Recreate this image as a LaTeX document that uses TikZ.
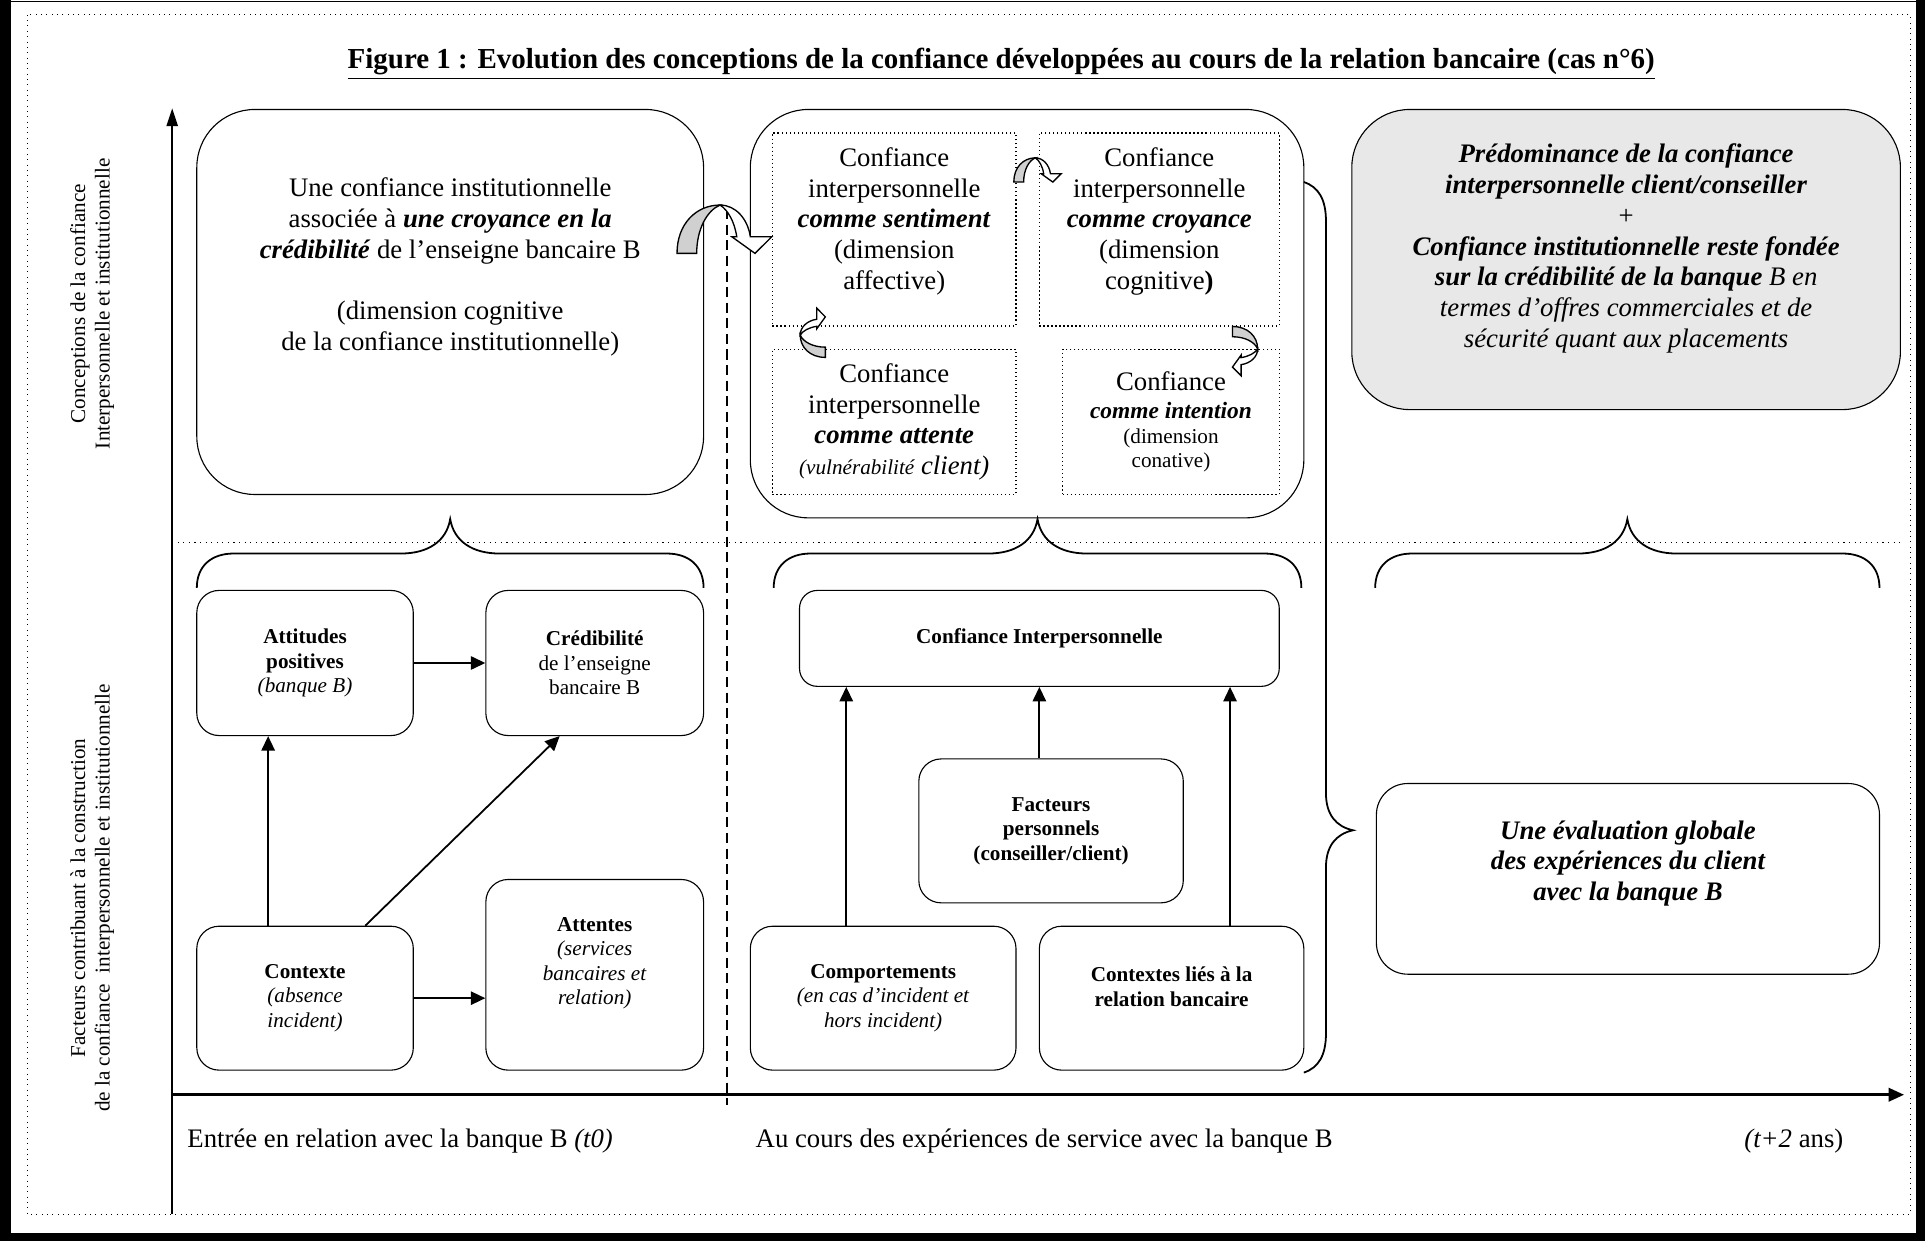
\documentclass[tikz,border=0pt]{standalone}
\usepackage{fontspec}
\setmainfont{Liberation Serif}
\usetikzlibrary{arrows.meta}
\newcommand{\ux}{0.552pt}
\newcommand{\topbrace}[2]{%
  \pgfmathsetmacro{\mx}{(#1+#2)/2}
  \draw[brc](#1,478)..controls(#1,460)and(#1+12,450)..(#1+30,450)--(\mx-40,450)..controls(\mx-18,450)and(\mx-3,440)..(\mx,422)..controls(\mx+3,440)and(\mx+18,450)..(\mx+40,450)--(#2-30,450)..controls(#2-12,450)and(#2,460)..(#2,478);}
\newcommand{\bendarrow}[4]{%
  \begin{scope}[shift={(#1,#2)},rotate=#3,scale=#4]
    \filldraw[fill=gray!37,line width=0.6pt](-37.6,0)..controls(-37.6,-24)and(-22,-39.3)..(-2.6,-39.3)..controls(-13,-35)and(-21.6,-20)..(-21.6,0)--cycle;
    \filldraw[fill=white,line width=0.6pt](-2.6,-39.3)..controls(10,-39.3)and(20,-28)..(22,-13.5)--(39.4,-13.5)--(25.8,0)--(7,-13.5)--(11,-13.5)..controls(9,-26)and(4,-35)..(-2.6,-39.3)--cycle;
  \end{scope}}
\begin{document}
\begin{tikzpicture}[x=0.552pt,y=-0.552pt,
  big/.style={draw,line width=0.5pt,rounded corners=26pt},
  box/.style={draw,line width=0.5pt,rounded corners=10pt,align=center,font=\fontsize{9.5}{11}\selectfont},
  dotbox/.style={draw,line width=0.6pt,dash pattern=on 0.6pt off 1.2pt,align=center,font=\fontsize{12}{13.8}\selectfont},
  txt/.style={align=center,font=\fontsize{12}{13.8}\selectfont},
  stxt/.style={align=center,font=\fontsize{9.5}{11}\selectfont},
  conn/.style={line width=0.8pt,-{Triangle[length=6.5pt,width=6pt]}},
  brc/.style={line width=0.8pt}]
  \useasboundingbox(0,0)rectangle(1565,1009);
  \fill(0,0)rectangle(9,1009);
  \fill(0,1002)rectangle(1565,1009);
  \fill(1558,0)rectangle(1565,1009);
  \draw[line width=0.5pt](0,1)--(1565,1);
  \draw[line width=0.4pt,dotted](22,12)rectangle(1553,987);
  \node[font=\bfseries\fontsize{13}{15}\selectfont](title)at(814,52){\underline{Figure 1 : Evolution des conceptions de la confiance développées au cours de la relation bancaire (cas n°6)}};
  \coordinate(ybot)at(140,987);\coordinate(ytop)at(140,88);
  \coordinate(xorg)at(140,890);\coordinate(xend)at(1548,890);
  \draw[line width=0.9pt,-{Triangle[length=8pt,width=5pt]}](ybot)--(ytop);
  \draw[line width=1.3pt,-{Triangle[length=7pt,width=6pt]}](xorg)--(xend);
  \draw[line width=0.5pt,dotted](140,441)--(1548,441);
  \draw[line width=0.6pt,dash pattern=on 4.5pt off 2.5pt](591,170)--(591,898);
  \node[stxt,rotate=90](lab1)at(75,247){Conceptions de la confiance\\Interpersonnelle et institutionnelle};
  \node[stxt,rotate=90](lab2)at(75,730){Facteurs contribuant à la construction\\de la confiance\ \ interpersonnelle et institutionnelle};
  \node[big,minimum width=412*\ux,minimum height=313*\ux](inst)at(366,245.5){};
  \node[txt](instT)at(366,217){Une confiance institutionnelle\\associée à \textbf{\textit{une croyance en la}}\\\textbf{\textit{crédibilité}} de l’enseigne bancaire B\\[13.8pt](dimension cognitive\\de la confiance institutionnelle)};
  \node[big,minimum width=450*\ux,minimum height=332*\ux](interp)at(835,255){};
  \node[dotbox,minimum width=198*\ux,minimum height=157*\ux](sent)at(727,186.5){};
  \node[txt](sentT)at(727,180){Confiance\\interpersonnelle\\\textbf{\textit{comme sentiment}}\\(dimension\\affective)};
  \node[dotbox,minimum width=195*\ux,minimum height=157*\ux](croy)at(942.5,186.5){};
  \node[txt](croyT)at(942.5,180){Confiance\\interpersonnelle\\\textbf{\textit{comme croyance}}\\(dimension\\cognitive\textbf{)}};
  \node[dotbox,minimum width=198*\ux,minimum height=118*\ux](atte)at(727,343){Confiance\\interpersonnelle\\\textbf{\textit{comme attente}}\\\textit{{\fontsize{9.5}{11}\selectfont(vulnérabilité} client)}};
  \node[dotbox,minimum width=176*\ux,minimum height=118*\ux](inten)at(952,343){Confiance\\[-1pt]{\fontsize{10.5}{12}\selectfont\bfseries\itshape comme intention}\\[-2.5pt]{\fontsize{9.5}{11}\selectfont(dimension}\\[-3pt]{\fontsize{9.5}{11}\selectfont conative)}};
  \node[big,fill=gray!18,minimum width=446*\ux,minimum height=244*\ux](predom)at(1322,211){};
  \node[txt](predomT)at(1322,202){\textbf{\textit{Prédominance de la confiance}}\\\textbf{\textit{interpersonnelle client/conseiller}}\\+\\\textbf{\textit{Confiance institutionnelle reste fondée}}\\\textbf{\textit{sur la crédibilité de la banque}} \textit{B en}\\\textit{termes d’offres commerciales et de}\\\textit{sécurité quant aux placements}};
  \topbrace{160}{572}\topbrace{629}{1058}\topbrace{1118}{1528}
  \draw[brc](1060,148)..controls(1072,152)and(1078,162)..(1078,180)--(1078,645)..controls(1078,662)and(1086,672)..(1100,675)..controls(1086,678)and(1078,688)..(1078,705)--(1078,840)..controls(1078,858)and(1072,868)..(1060,872);
  \node[box,minimum width=176*\ux,minimum height=118*\ux](attit)at(248,539){\textbf{Attitudes}\\\textbf{positives}\\\textit{(banque B)}};
  \node[box,minimum width=177*\ux,minimum height=118*\ux](cred)at(483.5,539){\textbf{Crédibilité}\\de l’enseigne\\bancaire B};
  \node[box,minimum width=176*\ux,minimum height=117*\ux](ctx)at(248,811.5){\textbf{Contexte}\\\textit{(absence}\\\textit{incident)}};
  \node[box,minimum width=177*\ux,minimum height=155*\ux](attn)at(483.5,792.5){};
  \node[stxt](attnT)at(483.5,783){\textbf{Attentes}\\\textit{(services}\\\textit{bancaires et}\\\textit{relation)}};
  \node[box,rounded corners=8pt,minimum width=390*\ux,minimum height=78*\ux](ci)at(845,519){\textbf{Confiance Interpersonnelle}};
  \node[box,minimum width=215*\ux,minimum height=117*\ux](fact)at(854.5,675.5){\textbf{Facteurs}\\\textbf{personnels}\\\textbf{(conseiller/client)}};
  \node[box,minimum width=216*\ux,minimum height=117*\ux](comp)at(718,811.5){\textbf{Comportements}\\\textit{(en cas d’incident et}\\\textit{hors incident)}};
  \node[box,minimum width=215*\ux,minimum height=117*\ux](ctxb)at(952.5,811.5){};
  \node[stxt](ctxbT)at(952.5,802){\textbf{Contextes liés à la}\\\textbf{relation bancaire}};
  \node[box,rounded corners=14pt,minimum width=409*\ux,minimum height=155*\ux](eval)at(1323.5,714.5){};
  \node[txt,font=\fontsize{12}{13.8}\selectfont\bfseries\itshape](evalT)at(1323.5,702){Une évaluation globale\\des expériences du client\\avec la banque B};
  \draw[conn](attit)--(cred);
  \draw[conn]([xshift=-30*\ux]ctx.north)--([xshift=-30*\ux]attit.south);
  \draw[conn]([xshift=49*\ux]ctx.north)--([xshift=-28.5*\ux]cred.south);
  \draw[conn](ctx.east)--(ctx.east-|attn.west);
  \coordinate(c1)at([xshift=-30*\ux]comp.north);
  \coordinate(c2)at([xshift=47.5*\ux]ctxb.north);
  \draw[conn](c1)--(c1|-ci.south);
  \draw[conn](ci.south|-fact.north)--(ci.south);
  \draw[conn](c2)--(c2|-ci.south);
  \bendarrow{588}{206}{0}{1}
  \bendarrow{843}{148}{0}{0.5}
  \bendarrow{671}{271}{90}{0.52}
  \bendarrow{1002}{285}{-90}{0.52}
  \node[txt,anchor=west](t0)at(146,928){Entrée en relation avec la banque B \textit{(t0)}};
  \node[txt,anchor=west](tmid)at(608,928){Au cours des expériences de service avec la banque B};
  \node[txt,anchor=east](tend)at(1505,928){\textit{(t+2} ans)};
\end{tikzpicture}
\end{document}
